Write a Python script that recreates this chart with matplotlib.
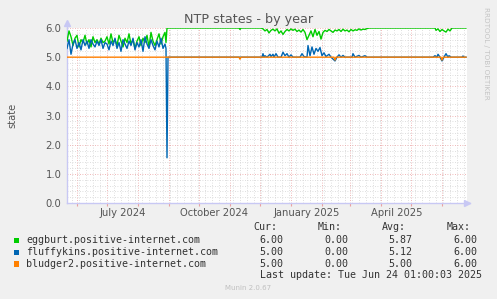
import numpy as np
import matplotlib
matplotlib.use("Agg")
import matplotlib.pyplot as plt
import matplotlib.dates as mdates
from matplotlib.patches import Rectangle

# ---------------- data ----------------
START = np.datetime64("2024-05-22")
END_DAY = 399

# eggburt (green): noisy period, sampled every 2 days from day 0
egg_early_vals = [5.55, 5.9, 5.7, 5.4, 5.65, 5.75, 5.35, 5.6, 5.5, 5.75,
                  5.45, 5.6, 5.35, 5.7, 5.5, 5.6, 5.45, 5.65, 5.5, 5.55,
                  5.7, 5.45, 5.8, 5.5, 5.6, 5.4, 5.75, 5.55, 5.35, 5.65,
                  5.5, 5.8, 5.45, 5.6, 5.3, 5.55, 5.7, 5.4, 5.65, 5.5,
                  5.75, 5.35, 5.85, 5.55, 5.4, 5.6, 5.8, 5.45, 5.7, 5.85]
egg_mid_vals = [5.97, 5.9, 5.95, 5.83, 5.92, 5.96, 5.9, 5.97, 5.82, 5.9,
                5.78, 5.88, 5.95, 5.9, 5.97, 5.92, 5.96, 5.88, 5.93, 5.86,
                5.95, 5.85, 5.6, 5.75, 5.9, 5.7, 5.95, 5.75, 5.88, 5.62,
                5.85, 5.92, 5.88, 5.95, 5.9, 5.85, 5.93, 5.9, 5.95, 5.88,
                5.96, 5.9, 5.93, 5.87, 5.95, 5.9, 5.94, 5.92, 5.97, 5.93,
                5.96, 5.95, 5.98]
egg_other = [(99, 5.5), (100, 6.0), (172, 6.0), (173, 5.95), (174, 6.0), (194, 6.0),
             (302, 6.0), (367, 6.0), (368, 6.0), (369, 5.92), (371, 5.97), (373, 5.88),
             (375, 5.95), (377, 5.9), (379, 5.86), (381, 5.96), (383, 5.9), (385, 6.0),
             (399, 6.0)]

# fluffykins (blue)
blue_early_vals = [5.3, 5.6, 5.1, 5.45, 5.6, 5.3, 5.5, 5.25, 5.6, 5.4,
                   5.55, 5.3, 5.6, 5.45, 5.35, 5.55, 5.4, 5.6, 5.3, 5.5,
                   5.45, 5.25, 5.55, 5.4, 5.65, 5.3, 5.5, 5.2, 5.6, 5.45,
                   5.3, 5.55, 5.4, 5.65, 5.25, 5.5, 5.35, 5.6, 5.2, 5.7,
                   5.45, 5.3, 5.6, 5.4, 5.25, 5.55, 5.35, 5.65, 5.3, 5.45]
blue_other = [(99, 5.3), (100, 1.55), (101, 5.0), (195, 5.0), (196, 5.12), (197, 5.0),
              (198, 5.05), (200, 5.0), (203, 5.1), (204, 5.02), (206, 5.1), (207, 5.0),
              (209, 5.12), (211, 5.0), (214, 5.0), (216, 5.17), (218, 5.05), (220, 5.12),
              (222, 5.0), (224, 5.08), (226, 5.0), (233, 5.0), (235, 5.12), (237, 5.02),
              (240, 5.0), (241, 5.4), (243, 5.05), (245, 5.35), (247, 5.1), (249, 5.3),
              (251, 5.2), (253, 5.33), (255, 5.05), (257, 5.15), (259, 5.02), (262, 5.1),
              (264, 5.0), (268, 4.87), (270, 5.0), (272, 5.08), (274, 5.0), (276, 5.06),
              (278, 5.0), (285, 5.0), (286, 5.12), (288, 5.0), (292, 5.06), (294, 5.0),
              (298, 5.05), (300, 5.0), (366, 5.0), (368, 5.05), (370, 5.0), (371, 5.1),
              (373, 5.0), (375, 4.87), (377, 5.0), (379, 5.12), (381, 5.0), (382, 5.05),
              (384, 5.0), (395, 5.0), (396, 5.04), (397, 5.0), (399, 5.0)]

# bludger2 (orange)
orange_pts = [(0, 5.0), (172, 5.0), (173, 4.93), (174, 5.0), (267, 5.0), (268, 4.9),
              (269, 5.0), (374, 5.0), (375, 4.9), (376, 5.0), (399, 5.0)]

names = ["eggburt.positive-internet.com", "fluffykins.positive-internet.com",
         "bludger2.positive-internet.com"]
colors = ["#00CC00", "#0066B3", "#FF8000"]
cur = ["6.00", "5.00", "5.00"]
mins = ["0.00", "0.00", "0.00"]
avgs = ["5.87", "5.12", "5.00"]
maxs = ["6.00", "6.00", "6.00"]
month_labels = ["July 2024", "October 2024", "January 2025", "April 2025"]
month_label_starts = ["2024-07-01", "2024-10-01", "2025-01-01", "2025-04-01"]
yticks = [0, 1, 2, 3, 4, 5, 6]


def series(early, other):
    pts = []
    if early is not None:
        pts += [(2 * i, v) for i, v in enumerate(early)]
    pts += other
    pts.sort(key=lambda p: p[0])
    d = np.array([p[0] for p in pts])
    v = np.array([p[1] for p in pts])
    return START + d.astype("timedelta64[D]"), v


egg_mid = [(196 + 2 * i, v) for i, v in enumerate(egg_mid_vals)]
egg_x, egg_y = series(egg_early_vals, egg_other + egg_mid)
blue_x, blue_y = series(blue_early_vals, blue_other)
or_x, or_y = series(None, orange_pts)

# ---------------- figure ----------------
W, H = 497, 299
fig = plt.figure(figsize=(W / 100, H / 100), dpi=100, facecolor="#F0F0F0")
L, R, T, B = 67, 467, 28, 203
ax = fig.add_axes([L / W, 1 - B / H, (R - L) / W, (B - T) / H])
ax.set_facecolor("white")

txt = "#555555"

# grid
x0 = START
x1 = START + np.timedelta64(END_DAY + 1, "D")
ax.set_xlim(x0, x1)
ax.set_ylim(0, 6.0)
ax.xaxis.set_major_locator(mdates.MonthLocator())
ax.xaxis.set_minor_locator(mdates.WeekdayLocator(byweekday=mdates.MO))
ax.xaxis.set_major_formatter(plt.NullFormatter())
ax.set_yticks(yticks)
ax.set_yticks(np.arange(0, 6.01, 0.2), minor=True)
ax.set_yticklabels([f"{v:.1f}" for v in yticks], color=txt, fontsize=7.2)
ax.grid(which="minor", color="#d4d4d4", linestyle=(0, (1, 2)), linewidth=0.6)
ax.grid(which="major", color="#eaa0a0", linestyle=(0, (1, 2)), linewidth=0.6)
ax.set_axisbelow(True)
ax.tick_params(axis="x", which="major", length=2, color="#eaa0a0", width=0.8)
ax.tick_params(axis="x", which="minor", length=0)
ax.tick_params(axis="y", which="both", length=0, pad=4)

for s in ["top", "right"]:
    ax.spines[s].set_visible(False)
for s in ["left", "bottom"]:
    ax.spines[s].set_color("#c8c8f4")
    ax.spines[s].set_linewidth(1.0)

# arrows
ax.plot([1.0], [0], marker=">", markersize=4, color="#c8c8f4", transform=ax.transAxes, clip_on=False)
ax.plot([0], [1.03], marker="^", markersize=4, color="#c8c8f4", transform=ax.transAxes, clip_on=False)
ax.plot([1.0, 1.0075], [0, 0], color="#c8c8f4", lw=1.0, transform=ax.transAxes, clip_on=False)
ax.plot([0, 0], [1.0, 1.03], color="#c8c8f4", lw=1.0, transform=ax.transAxes, clip_on=False)

# month labels at mid-month
trans = matplotlib.transforms.blended_transform_factory(ax.transData, ax.transAxes)
for lab, ms in zip(month_labels, month_label_starts):
    xd = mdates.date2num(np.datetime64(ms)) + 15.5
    ax.text(xd, -0.03, lab, transform=trans, ha="center", va="top", fontsize=7.2, color=txt)

# lines
ax.plot(egg_x, egg_y, color=colors[0], lw=1.0, zorder=3)
ax.plot(blue_x, blue_y, color=colors[1], lw=1.0, zorder=4)
ax.plot(or_x, or_y, color=colors[2], lw=1.0, zorder=5)

# texts
fig.text(249 / W, 1 - 19 / H, "NTP states - by year", ha="center", va="center", fontsize=9.2, color=txt)
fig.text(12 / W, 1 - 115 / H, "state", ha="center", va="center", rotation=90, fontsize=7.2, color=txt)
fig.text(486 / W, 1 - 53 / H, "RRDTOOL / TOBI OETIKER", ha="center", va="center", rotation=270,
         fontsize=5.2, color="#c4c4c4")

mono = "DejaVu Sans Mono"
fs = 7.2
def fy(y):
    return 1 - y / H

for lab, xl in zip(["Cur:", "Min:", "Avg:", "Max:"], [253, 318, 382, 447]):
    fig.text(xl / W, fy(227.5), lab, ha="left", va="center", family=mono, fontsize=fs, color="#333333")

rows = [240, 252, 263.7]
for i in range(3):
    y = rows[i]
    fig.patches.append(Rectangle((13.5 / W, fy(y + 3)), 5 / W, 5.5 / H, transform=fig.transFigure,
                                 facecolor=colors[i], edgecolor="none"))
    fig.text(26 / W, fy(y), names[i], ha="left", va="center", family=mono, fontsize=fs, color="#333333")
    for val, xr in zip([cur[i], mins[i], avgs[i], maxs[i]], [283, 348, 412, 477]):
        fig.text(xr / W, fy(y), val, ha="right", va="center", family=mono, fontsize=fs, color="#333333")

fig.text(482 / W, fy(275.5), "Last update: Tue Jun 24 01:00:03 2025", ha="right", va="center",
         family=mono, fontsize=fs, color="#333333")
fig.text(248 / W, fy(288.5), "Munin 2.0.67", ha="center", va="center", fontsize=5.0, color="#c0c0c0")

fig.savefig("out.png", dpi=100, facecolor=fig.get_facecolor())
